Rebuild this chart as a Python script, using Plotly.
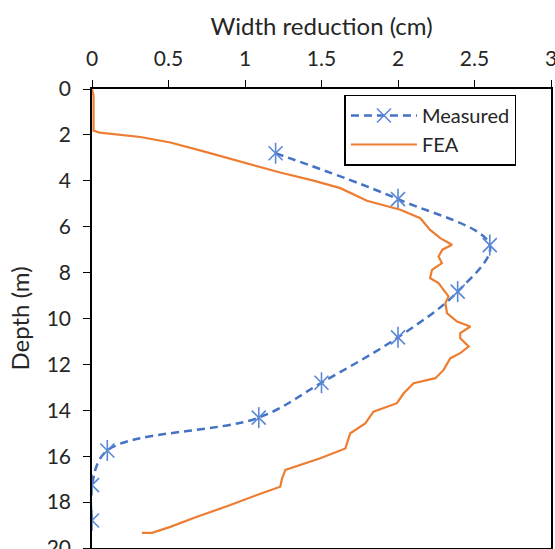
import plotly.graph_objects as go

# Measured data (width reduction in cm, depth in m)
measured_width = [1.2, 2.0, 2.6, 2.39, 2.0, 1.5, 1.09, 0.1, 0.0, 0.0]
measured_depth = [2.8, 4.8, 6.8, 8.83, 10.82, 12.8, 14.32, 15.75, 17.26, 18.8]

# FEA data
fea_width = [0.0, 0.01, 0.01, 0.05, 0.316, 0.512, 0.73, 1.013, 1.23, 1.448, 1.623, 1.797,
             2.015, 2.146, 2.21, 2.276, 2.353, 2.29, 2.265, 2.287, 2.222, 2.21, 2.265,
             2.298, 2.33, 2.31, 2.32, 2.386, 2.473, 2.407, 2.407, 2.462, 2.407, 2.342,
             2.298, 2.244, 2.102, 2.037, 1.993, 1.84, 1.786, 1.688, 1.656, 1.492, 1.264,
             1.242, 1.23, 1.078, 0.904, 0.686, 0.512, 0.392, 0.327]
fea_depth = [0.0, 0.3, 1.82, 1.9, 2.09, 2.33, 2.72, 3.23, 3.64, 3.99, 4.32, 4.87,
             5.26, 5.63, 6.14, 6.5, 6.79, 7.0, 7.3, 7.59, 7.88, 8.24, 8.46,
             8.75, 9.04, 9.33, 9.77, 10.13, 10.35, 10.64, 10.86, 11.22, 11.51, 11.73,
             12.24, 12.6, 12.82, 13.26, 13.69, 14.06, 14.57, 15.0, 15.66, 16.09, 16.6,
             16.97, 17.33, 17.69, 18.13, 18.64, 19.08, 19.34, 19.34]

x_ticks = [0, 0.5, 1, 1.5, 2, 2.5, 3]
y_ticks = [0, 2, 4, 6, 8, 10, 12, 14, 16, 18, 20]

BLUE = "#4472C4"
MARK = "#5A87D6"
ORANGE = "#ED7D31"
FONT = "Lato"
TXT = "#262626"

fig = go.Figure()

fig.add_trace(go.Scatter(
    x=measured_width, y=measured_depth, name="Measured",
    mode="lines+markers",
    line=dict(color=BLUE, width=2.5, dash="8px,5px", shape="spline", smoothing=1.0),
    marker=dict(symbol="x-thin-open", size=14, color=MARK, line=dict(width=1.6, color=MARK)),
))
fig.add_trace(go.Scatter(
    x=measured_width, y=measured_depth, name="Measured",
    mode="markers", showlegend=False,
    marker=dict(symbol="line-ns-open", size=15, color=MARK, line=dict(width=1.6, color=MARK)),
))
fig.add_trace(go.Scatter(
    x=fea_width, y=fea_depth, name="FEA",
    mode="lines",
    line=dict(color=ORANGE, width=2.2),
))

fig.update_layout(
    width=555, height=549,
    margin=dict(l=92, r=4, t=89, b=1),
    paper_bgcolor="white", plot_bgcolor="white",
    font=dict(family=FONT, size=21, color=TXT),
    showlegend=True,
    legend=dict(
        x=0.55, y=0.988, xanchor="left", yanchor="top",
        bgcolor="white", bordercolor="black", borderwidth=1.5,
        font=dict(family=FONT, size=20, color=TXT),
        itemwidth=66, tracegroupgap=0,
    ),
    xaxis=dict(
        side="top", range=[0, 3], tickvals=x_ticks, ticktext=[str(v) for v in x_ticks],
        ticks="outside", ticklen=7, tickwidth=1.3, tickcolor="black",
        showline=True, linecolor="black", linewidth=1.5, mirror=True,
        showgrid=False, zeroline=False, automargin=False,
        ticklabelstandoff=6, ticklabeloverflow="allow",
        title=dict(text="Width reduction (cm)", font=dict(family=FONT, size=24, color=TXT), standoff=2),
    ),
    yaxis=dict(
        range=[20, 0], tickvals=y_ticks, ticktext=[str(v) for v in y_ticks],
        ticks="outside", ticklen=7, tickwidth=1.3, tickcolor="black",
        showline=True, linecolor="black", linewidth=1.5, mirror=True,
        showgrid=False, zeroline=False, automargin=False,
        ticklabelstandoff=8, ticklabeloverflow="allow",
        title=dict(text="Depth (m)", font=dict(family=FONT, size=24, color=TXT), standoff=10),
    ),
)

fig.write_html("out.html", config={"displayModeBar": False},
               post_script="document.body.style.margin='0px';document.body.style.overflow='hidden';")
